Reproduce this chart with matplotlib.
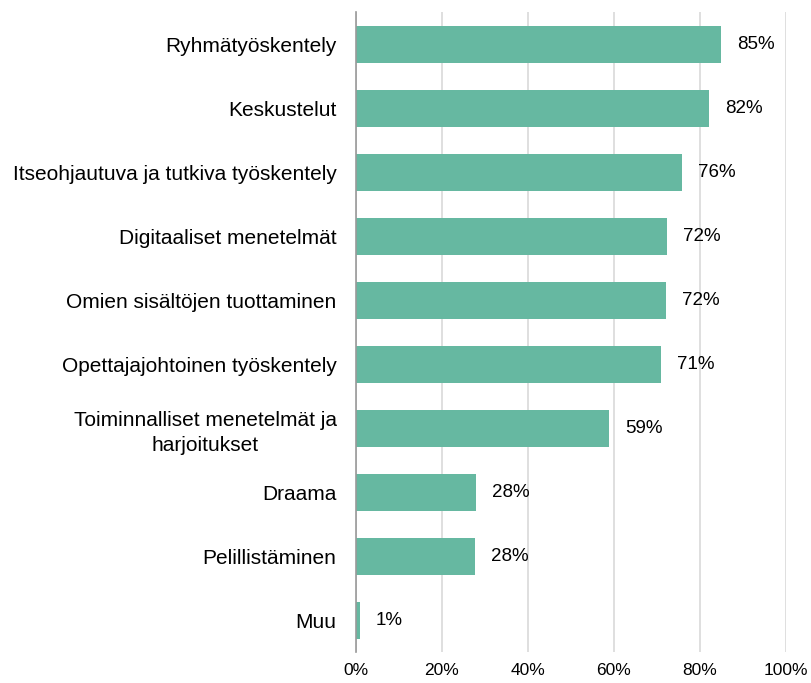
import matplotlib.pyplot as plt
from matplotlib.ticker import PercentFormatter

plt.rcParams['font.family'] = ['Liberation Sans', 'DejaVu Sans']

categories = ['Ryhmätyöskentely', 'Keskustelut', 'Itseohjautuva ja tutkiva työskentely',
              'Digitaaliset menetelmät', 'Omien sisältöjen tuottaminen',
              'Opettajajohtoinen työskentely', 'Toiminnalliset menetelmät ja\nharjoitukset',
              'Draama', 'Pelillistäminen', 'Muu']
values = [84.9, 82.1, 75.9, 72.4, 72.2, 71.0, 58.9, 28.0, 27.6, 0.9]
labels = ['85%', '82%', '76%', '72%', '72%', '71%', '59%', '28%', '28%', '1%']

fig, ax = plt.subplots(figsize=(8.11, 6.83), dpi=100)
fig.subplots_adjust(left=0.439, right=0.969, top=0.982, bottom=0.045)

y = range(len(categories))
bars = ax.barh(y, values, height=0.58, color='#66b8a1', zorder=3)
ax.set_ylim(len(categories) - 0.5, -0.5)
ax.set_xlim(0, 100)
ax.set_xticks(range(0, 101, 20))
ax.xaxis.set_major_formatter(PercentFormatter(decimals=0))

for b, lab in zip(bars, labels):
    ax.text(b.get_width() + 3.7, b.get_y() + b.get_height() / 2, lab,
            va='center', ha='left', fontsize=13.5)

ax.set_yticks(list(y))
ax.set_yticklabels(categories, fontsize=15, ha='right', multialignment='center',
                   linespacing=1.35)
ax.tick_params(axis='y', length=0, pad=14)
ax.tick_params(axis='x', length=0, pad=8, labelsize=12.5)

ax.grid(axis='x', color='#d9d9d9', linewidth=1.2, zorder=0)
for s in ['top', 'right', 'bottom']:
    ax.spines[s].set_visible(False)
ax.spines['left'].set_color('#999999')
ax.spines['left'].set_linewidth(1.2)
ax.spines['left'].set_zorder(4)

plt.savefig('out.png', dpi=100)
plt.close()
